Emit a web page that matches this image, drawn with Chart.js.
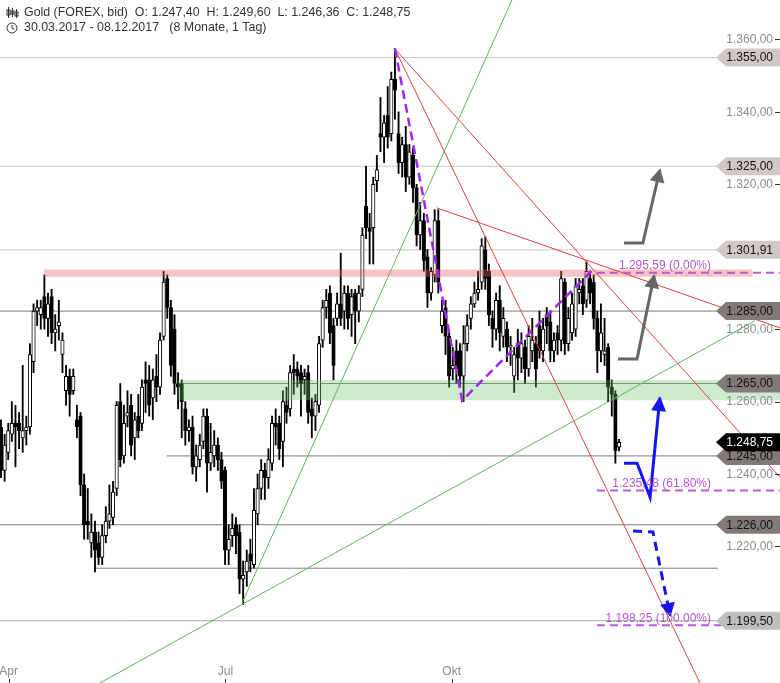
<!DOCTYPE html>
<html><head><meta charset="utf-8">
<script src="https://cdn.jsdelivr.net/npm/chart.js@4.4.1/dist/chart.umd.min.js"></script>
<style>html,body{margin:0;padding:0;background:#fff;}#wrap{width:780px;height:683px;position:relative;}</style>
</head><body><div id="wrap"><canvas id="c"></canvas></div>
<script>
// ---- candle data (daily, 30.03.2017 - 08.12.2017) ----
const opens = [
1253,1241,1246,1251,1254,1254,1250,1252,1253,1271,
1285,1284,1289,1283,1289,1279,1281,1273,1263,1267,
1263,1255,1256,1237,1227,1221,1224,1221,1217,1223,
1227,1228,1236,1260,1245,1256,1259,1250,1256,1254,
1266,1266,1261,1267,1264,1278,1294,1286,1280,1265,
1265,1258,1252,1253,1242,1244,1249,1256,1243,1245,
1248,1244,1241,1219,1223,1226,1224,1211,1213,1218,
1215,1229,1236,1241,1239,1243,1254,1254,1249,1259,
1258,1269,1269,1268,1266,1268,1258,1256,1259,1277,
1286,1290,1281,1283,1287,1285,1290,1284,1290,1285,
1291,1314,1308,1308,1321,1334,1333,1339,1334,1349,
1334,1326,1331,1322,1328,1319,1306,1310,1300,1290,
1295,1310,1281,1286,1278,1269,1274,1274,1267,1276,
1283,1287,1290,1293,1302,1296,1283,1280,1288,1278,
1280,1275,1267,1276,1272,1275,1269,1274,1276,1281,
1274,1284,1282,1274,1279,1277,1293,1276,1279,1280,
1290,1292,1288,1294,1293,1283,1274,1273,1275,1264,
1262,1247.40];
const highs = [
1255,1251,1254,1260,1259,1257,1270,1256,1276,1287,
1288,1288,1295,1290,1291,1284,1288,1279,1270,1269,
1269,1259,1257,1240,1236,1229,1227,1224,1226,1231,
1237,1238,1260,1265,1259,1263,1262,1257,1262,1266,
1271,1270,1269,1273,1279,1296,1295,1288,1284,1268,
1266,1260,1255,1256,1248,1251,1258,1258,1254,1252,
1250,1246,1242,1226,1229,1228,1226,1216,1219,1222,
1236,1240,1244,1243,1247,1256,1258,1256,1263,1264,
1270,1273,1271,1270,1269,1270,1261,1262,1278,1288,
1291,1292,1283,1290,1301,1292,1292,1291,1291,1292,
1308,1325,1312,1322,1328,1344,1339,1347,1351,1357.5,
1340,1333,1336,1331,1330,1320,1315,1312,1302,1297,
1313,1313,1288,1288,1279,1275,1277,1276,1281,1284,
1289,1293,1296,1305,1305.5,1298,1285,1290,1292,1286,
1282,1278,1275,1280,1279,1277,1281,1283,1278,1285,
1283,1286,1285,1279,1281,1296,1294,1286,1290,1294,
1294,1294,1298.6,1296,1295,1285,1287,1283,1276,1266,
1263,1249.60];
const lows = [
1239,1238,1244,1249,1242,1247,1246,1248,1251,1268,
1281,1280,1280,1278,1276,1274,1277,1268,1259,1256,
1262,1250,1234,1222,1222,1217,1213,1215,1215,1221,
1225,1226,1234,1242,1243,1253,1245,1244,1250,1252,
1257,1256,1255,1260,1262,1277,1283,1267,1262,1258,
1250,1248,1249,1240,1238,1242,1247,1235,1241,1242,
1241,1236,1215,1215,1220,1218,1207,1204,1209,1213,
1214,1226,1233,1233,1236,1241,1248,1244,1242,1254,
1256,1262,1264,1256,1262,1254,1250,1252,1257,1275,
1283,1276,1266,1281,1281,1280,1280,1278,1276,1282,
1289,1305,1298,1298,1318,1329,1326,1330,1332,1338,
1323,1322,1318,1320,1315,1303,1302,1296,1286,1288,
1293,1290,1279,1273,1264,1266,1265,1264,1260,1274,
1280,1286,1288,1291,1291,1281,1275,1277,1274,1275,
1271,1270,1262.5,1266,1268,1265,1267,1271,1264,1272,
1271,1276,1271,1271,1273,1274,1273,1274,1277,1278,
1287,1284,1286,1287,1280,1268,1271,1270,1260,1256,
1243,1246.36];
const closes = [
1241,1248,1252,1254,1253,1252,1252,1253,1273,1285,
1286,1286,1283,1287,1279,1280,1282,1277,1267,1262,
1267,1253,1237,1226,1226,1224,1219,1217,1223,1227,
1229,1235,1259,1244,1254,1257,1248,1255,1252,1264,
1265,1259,1266,1264,1277,1293,1286,1270,1265,1264,
1260,1252,1253,1242,1245,1248,1256,1243,1246,1248,
1244,1238,1219,1222,1225,1223,1211,1212,1216,1216,
1230,1236,1241,1239,1244,1254,1253,1247,1260,1257,
1268,1268,1267,1265,1267,1257,1256,1260,1276,1286,
1288,1279,1270,1287,1283,1290,1283,1289,1285,1290,
1306,1308,1307,1320,1324,1333,1337,1333,1349,1346,
1326,1331,1322,1329,1319,1306,1310,1299,1290,1296,
1310,1293,1285,1278,1267,1270,1269,1267,1276,1281,
1287,1290,1291,1303,1294,1284,1280,1288,1279,1283,
1275,1275.5,1273,1272,1276,1269,1278,1277,1269,1274,
1280,1281,1274,1277,1277,1294,1276,1283,1287,1292,
1291,1287,1296,1290,1283,1274,1279,1274,1264,1262,
1246.5,1248.75];

// ---- axis ticks ----
const priceTicks = [1360, 1340, 1320, 1280, 1260, 1240, 1220];
const monthLabels = ['Apr', 'Jul', 'Okt'];
const monthIndex = [2.1, 62.1, 124.7];

// ---- horizontal levels (value, start index) ----
const levelValues = [1355, 1325, 1301.91, 1285, 1265, 1245, 1226, 1214, 1199.5];
const levelStart  = [-0.3, -0.3, -0.3, -0.3, 48.7, 45.9, -0.3, 26, -0.3];
const levelEnd = 198.4;
const lastPrice = 1248.75;

// ---- zones ----
const redZone = [1294.5, 1296.5, 11.9, 208];
const greenZone = [1260.4, 1266, 49, 216];

// ---- fibonacci ----
const fibValues = [1295.59, 1235.48, 1198.25];
const fibLabels = ['1.295,59 (0.00%)', '1.235,48 (61.80%)', '1.198,25 (100.00%)'];
const fibStart = 164.9;

// ---- trend lines [x1,y1,x2,y2] ----
const redLines = [[109.0,1357.4,196,1176.9],[109.0,1357.4,216,1238.6],[120.6,1313.5,216,1280.2]];
const greenLines = [[66.7,1204.4,143,1374.5],[25,1181.0,208.6,1282.3]];
const zigzag = [[109.0,1357.4],[127.6,1260.3],[163.8,1296.5]];

// ---- scenario arrows ----
const arrowGrey1 = [[172.4,1303.8],[177.6,1303.8],[182.3,1323.9]];
const arrowGrey2 = [[170.7,1271.8],[176.0,1271.8],[180.7,1294.7]];
const arrowBlue = [[172.4,1243.0],[176.0,1243.0],[179.6,1233.6],[182.3,1261.0]];
const arrowBlueDash = [[174.9,1224.3],[180.4,1224.0],[185.1,1201.1]];

// ---- header ----
const title1 = 'Gold (FOREX, bid)  O: 1.247,40  H: 1.249,60  L: 1.246,36  C: 1.248,75';
const title2 = '30.03.2017 - 08.12.2017   (8 Monate, 1 Tag)';

function de(v){ const s = v.toFixed(2).split('.'); return s[0].replace(/\B(?=(\d{3})+(?!\d))/g,'.') + ',' + s[1]; }

const idx = closes.map((_, i) => i);
const FONT = '12px "Liberation Sans", Arial, sans-serif';
const HFONT = '12.4px "Liberation Sans", Arial, sans-serif';

const levelStyle = v => (v === 1355 || v === 1325 || v === 1301.91) ? {line:'#cbc5c2', box:'#d0cac7'} :
                        (v === 1199.5) ? {line:'#a9a9a9', box:'#bebebe'} : {line:'#7b7b7b', box:'#807b79'};

const datasets = [];
function line(points, color, width, dash, order, extra){
  datasets.push(Object.assign({type:'line', data: points.map(p => ({x:p[0], y:p[1]})), borderColor: color, borderWidth: width,
    borderDash: dash || [], pointRadius: 0, fill: false, tension: 0, order: order}, extra || {}));
  return datasets.length - 1;
}
// candles
datasets.push({type:'bar', data: idx.map(i => ({x:i, y:[opens[i], closes[i]]})),
  backgroundColor: idx.map(i => closes[i] >= opens[i] ? '#ffffff' : '#000000'),
  borderColor:'#000000', borderWidth:1, borderSkipped:false, grouped:false,
  barPercentage:1, categoryPercentage:1, maxBarThickness:3.5, minBarLength:1.2, order:5});
datasets.push({type:'bar', data: idx.map(i => ({x:i, y:[lows[i], highs[i]]})),
  backgroundColor:'#000000', borderWidth:0, grouped:false,
  barPercentage:1, categoryPercentage:1, maxBarThickness:1.2, order:6});
// levels
levelValues.forEach((v, k) => line([[levelStart[k], v],[levelEnd, v]], levelStyle(v).line, 1, [], 7));
// zones
line([[redZone[2], redZone[1]],[redZone[3], redZone[1]]], 'transparent', 0, [], 4, {fill:{value: redZone[0]}, backgroundColor:'rgba(236,95,95,0.38)'});
line([[greenZone[2], greenZone[1]],[greenZone[3], greenZone[1]]], 'transparent', 0, [], 4, {fill:{value: greenZone[0]}, backgroundColor:'rgba(110,195,110,0.33)'});
// trend lines
redLines.forEach(l => line([[l[0],l[1]],[l[2],l[3]]], '#e2403c', 1, [], 3));
greenLines.forEach(l => line([[l[0],l[1]],[l[2],l[3]]], '#5cb85c', 1, [], 3));
line(zigzag, '#a326f0', 2.5, [9,5], 2);
fibValues.forEach(v => line([[fibStart, v],[216, v]], '#bb5ad6', 2, [8,5], 2));
// arrows
const arrows = [
  {i: line(arrowGrey1, '#666666', 3, [], 1), color:'#666666', len:14, w:15},
  {i: line(arrowGrey2, '#666666', 3, [], 1), color:'#666666', len:14, w:15},
  {i: line(arrowBlue, '#1515f0', 3, [], 1), color:'#1515f0', len:15, w:15},
  {i: line(arrowBlueDash, '#1515f0', 3, [9,6], 1), color:'#1515f0', len:14, w:15}
];

function box(ctx, yc, fill, text, txtColor){
  ctx.fillStyle = fill;
  ctx.beginPath();
  ctx.moveTo(716, yc); ctx.lineTo(726, yc - 9); ctx.lineTo(780, yc - 9); ctx.lineTo(780, yc + 9); ctx.lineTo(726, yc + 9); ctx.closePath();
  ctx.fill();
  ctx.fillStyle = txtColor; ctx.textAlign = 'right'; ctx.textBaseline = 'middle';
  ctx.fillText(text, 773, yc + 0.5);
}

const overlay = {
  id: 'overlay',
  afterDatasetsDraw(chart){
    const ctx = chart.ctx, xs = chart.scales.x, ys = chart.scales.y;
    ctx.save();
    // arrow heads
    arrows.forEach(a => {
      const pts = chart.getDatasetMeta(a.i).data;
      const p1 = pts[pts.length - 2], p2 = pts[pts.length - 1];
      let dx = p2.x - p1.x, dy = p2.y - p1.y; const L = Math.hypot(dx, dy); dx /= L; dy /= L;
      const tx = p2.x + dx * 2, ty = p2.y + dy * 2;
      const bx = tx - dx * a.len, by = ty - dy * a.len;
      ctx.fillStyle = a.color; ctx.beginPath();
      ctx.moveTo(tx, ty); ctx.lineTo(bx - dy * a.w / 2, by + dx * a.w / 2); ctx.lineTo(bx + dy * a.w / 2, by - dx * a.w / 2);
      ctx.closePath(); ctx.fill();
    });
    ctx.font = FONT;
    // price axis labels
    priceTicks.forEach(v => {
      const py = ys.getPixelForValue(v);
      ctx.fillStyle = '#8c8c8c'; ctx.textAlign = 'right'; ctx.textBaseline = 'middle';
      ctx.fillText(de(v), 773, py + 0.5);
      ctx.strokeStyle = '#333'; ctx.lineWidth = 1; ctx.beginPath();
      ctx.moveTo(775, Math.round(py) + 0.5); ctx.lineTo(780, Math.round(py) + 0.5); ctx.stroke();
    });
    // month labels
    monthLabels.forEach((m, k) => {
      const px = xs.getPixelForValue(monthIndex[k]);
      ctx.fillStyle = '#8c8c8c'; ctx.textAlign = 'center'; ctx.textBaseline = 'middle';
      ctx.fillText(m, px, 672);
      ctx.strokeStyle = '#333'; ctx.beginPath(); ctx.moveTo(Math.round(px) + 0.5, 679); ctx.lineTo(Math.round(px) + 0.5, 683); ctx.stroke();
    });
    // fib labels
    fibValues.forEach((v, k) => {
      const py = ys.getPixelForValue(v);
      ctx.fillStyle = '#b456d2'; ctx.textAlign = 'right'; ctx.textBaseline = 'middle';
      ctx.fillText(fibLabels[k], 711, py - 7);
    });
    // level boxes
    levelValues.forEach(v => {
      if (v === 1214) return;
      box(ctx, ys.getPixelForValue(v), levelStyle(v).box, de(v), '#111');
    });
    box(ctx, ys.getPixelForValue(lastPrice), '#000000', de(lastPrice), '#ffffff');
    // header
    ctx.font = HFONT;
    ctx.fillStyle = '#333'; ctx.textAlign = 'left'; ctx.textBaseline = 'middle';
    ctx.fillText(title1, 24, 13);
    ctx.fillText(title2, 24, 28);
    // candle icon
    ctx.strokeStyle = '#333'; ctx.lineWidth = 1;
    [[8,7,18,10,15],[12,8,17,11,14],[16,9,18,12,16]].forEach(c => {
      ctx.beginPath(); ctx.moveTo(c[0] + 0.5, c[1]); ctx.lineTo(c[0] + 0.5, c[2]); ctx.stroke();
      ctx.strokeRect(c[0] - 1, c[3], 3, c[4] - c[3]);
    });
    // clock icon
    ctx.beginPath(); ctx.arc(12, 28, 5, 0, Math.PI * 2); ctx.stroke();
    ctx.beginPath(); ctx.moveTo(12, 25); ctx.lineTo(12, 28); ctx.lineTo(14.5, 29.5); ctx.stroke();
    ctx.restore();
  }
};

new Chart(document.getElementById('c'), {
  type: 'bar',
  data: { datasets },
  options: {
    responsive: true, maintainAspectRatio: false, animation: false,
    layout: { padding: 0 },
    plugins: { legend: {display:false}, tooltip: {enabled:false} },
    scales: {
      x: { type:'linear', min:-0.28, max:215.55, display:false, offset:false },
      y: { type:'linear', min:1182.3, max:1370.9, display:false }
    }
  },
  plugins: [overlay]
});
</script></body></html>
